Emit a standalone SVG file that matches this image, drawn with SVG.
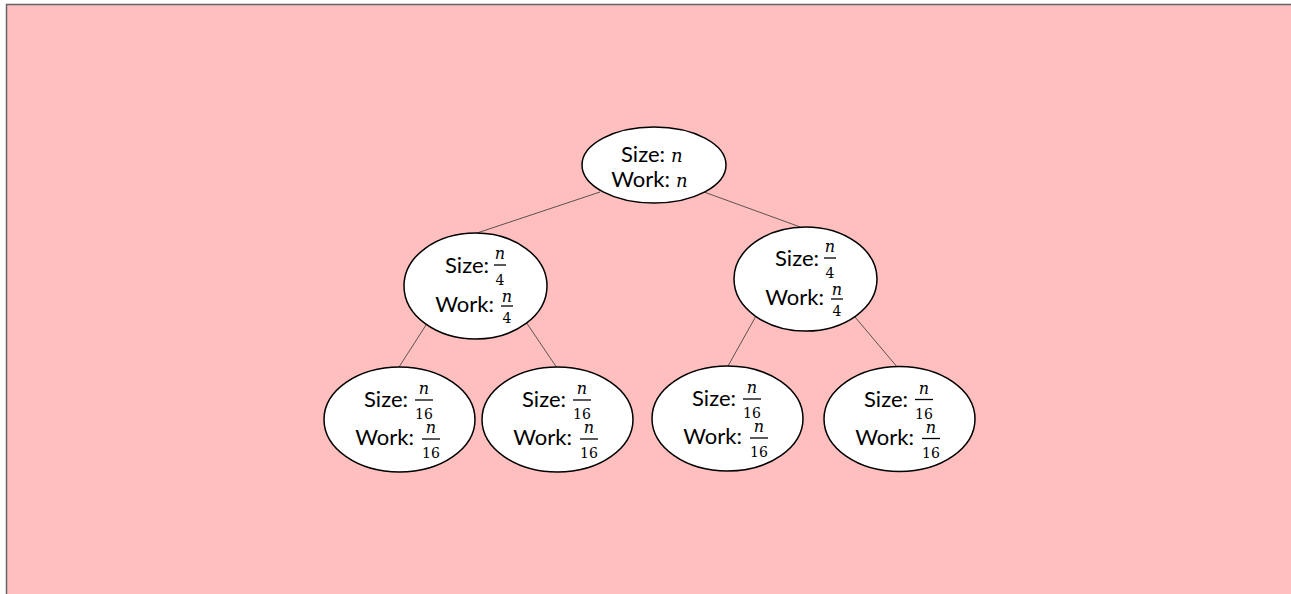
<svg xmlns="http://www.w3.org/2000/svg" width="1291" height="594" viewBox="0 0 1291 594">
<style>
.node{fill:#fff;stroke:#000;stroke-width:1.5}
.lbl{font-family:Lato,"Open Sans","Liberation Sans",sans-serif;font-size:22px;fill:#000;text-anchor:end}
.var{font-family:"DejaVu Serif","Liberation Serif",serif;font-style:italic;font-size:18px;fill:#000}
.num{font-family:"DejaVu Serif","Liberation Serif",serif;font-style:italic;font-size:16px;fill:#000;text-anchor:middle}
.den{font-family:"DejaVu Serif","Liberation Serif",serif;font-size:14px;fill:#000;text-anchor:middle}
.bar{stroke:#000;stroke-width:1.3}
.edge{stroke:#333;stroke-width:0.8;fill:none}
</style>
<rect x="6.5" y="4.5" width="1290" height="600" fill="#ffbfbf" stroke="#666" stroke-width="1.5"/>
<g id="connectors">
<line class="edge" x1="600" y1="192" x2="477" y2="233"/>
<line class="edge" x1="704" y1="192" x2="803" y2="228"/>
<line class="edge" x1="426" y1="325" x2="399" y2="367"/>
<line class="edge" x1="526" y1="322" x2="557" y2="368"/>
<line class="edge" x1="756" y1="316" x2="728" y2="366"/>
<line class="edge" x1="855" y1="317" x2="898" y2="368"/>
</g>
<g id="root">
<ellipse class="node" cx="654" cy="165" rx="72" ry="38"/>
<text class="lbl" x="665" y="162">Size:</text>
<text class="var" x="671" y="162">n</text>
<text class="lbl" x="670" y="187">Work:</text>
<text class="var" x="676" y="187">n</text>
</g>
<g id="mid-left">
<ellipse class="node" cx="475.5" cy="286" rx="71.5" ry="53"/>
<text class="lbl" x="489" y="273">Size:</text>
<text class="num" x="500" y="259">n</text>
<line class="bar" x1="494" y1="265" x2="506" y2="265"/>
<text class="den" x="500" y="285">4</text>
<text class="lbl" x="494" y="312">Work:</text>
<text class="num" x="507" y="302">n</text>
<line class="bar" x1="501" y1="306" x2="513" y2="306"/>
<text class="den" x="507" y="323">4</text>
</g>
<g id="mid-right">
<ellipse class="node" cx="805.5" cy="279" rx="71.5" ry="52"/>
<text class="lbl" x="819" y="266">Size:</text>
<text class="num" x="830" y="252">n</text>
<line class="bar" x1="824" y1="258" x2="836" y2="258"/>
<text class="den" x="830" y="278">4</text>
<text class="lbl" x="824" y="305">Work:</text>
<text class="num" x="837" y="295">n</text>
<line class="bar" x1="831" y1="299" x2="843" y2="299"/>
<text class="den" x="837" y="316">4</text>
</g>
<g id="leaf-1">
<ellipse class="node" cx="399.5" cy="419.5" rx="75.5" ry="52.5"/>
<text class="lbl" x="408" y="407">Size:</text>
<text class="num" x="424" y="394">n</text>
<line class="bar" x1="415" y1="400" x2="433" y2="400"/>
<text class="den" x="424" y="419">16</text>
<text class="lbl" x="414" y="445">Work:</text>
<text class="num" x="431" y="433">n</text>
<line class="bar" x1="422" y1="439" x2="440" y2="439"/>
<text class="den" x="431" y="458">16</text>
</g>
<g id="leaf-2">
<ellipse class="node" cx="557.5" cy="419.5" rx="75.5" ry="52.5"/>
<text class="lbl" x="566" y="407">Size:</text>
<text class="num" x="582" y="394">n</text>
<line class="bar" x1="573" y1="400" x2="591" y2="400"/>
<text class="den" x="582" y="419">16</text>
<text class="lbl" x="572" y="445">Work:</text>
<text class="num" x="589" y="433">n</text>
<line class="bar" x1="580" y1="439" x2="598" y2="439"/>
<text class="den" x="589" y="458">16</text>
</g>
<g id="leaf-3">
<ellipse class="node" cx="727.5" cy="418.5" rx="75.5" ry="52.5"/>
<text class="lbl" x="736" y="406">Size:</text>
<text class="num" x="752" y="393">n</text>
<line class="bar" x1="743" y1="399" x2="761" y2="399"/>
<text class="den" x="752" y="418">16</text>
<text class="lbl" x="742" y="444">Work:</text>
<text class="num" x="759" y="432">n</text>
<line class="bar" x1="750" y1="438" x2="768" y2="438"/>
<text class="den" x="759" y="457">16</text>
</g>
<g id="leaf-4">
<ellipse class="node" cx="899.5" cy="419" rx="75.5" ry="52.5"/>
<text class="lbl" x="908" y="406.5">Size:</text>
<text class="num" x="924" y="393.5">n</text>
<line class="bar" x1="915" y1="399.5" x2="933" y2="399.5"/>
<text class="den" x="924" y="418.5">16</text>
<text class="lbl" x="914" y="444.5">Work:</text>
<text class="num" x="931" y="432.5">n</text>
<line class="bar" x1="922" y1="438.5" x2="940" y2="438.5"/>
<text class="den" x="931" y="457.5">16</text>
</g>
</svg>
